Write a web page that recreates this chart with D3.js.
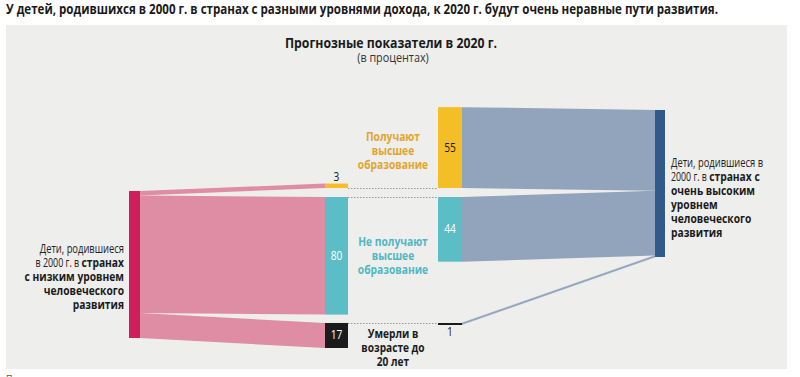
<!DOCTYPE html>
<html>
<head>
<meta charset="utf-8">
<script src="https://cdn.jsdelivr.net/npm/d3@7"></script>
<style>
  body { margin: 0; background: #fff; }
  svg { display: block; }
  text { font-family: "Open Sans", sans-serif; }
</style>
</head>
<body>
<svg id="chart" width="800" height="377"></svg>
<script>
// data
const outcomes = ["edu", "noEdu", "died"];
const outcomeLabels = [
  ["Получают", "высшее", "образование"],
  ["Не получают", "высшее", "образование"],
  ["Умерли в", "возрасте до", "20 лет"]
];
const lowValues = [3, 80, 17];
const highValues = [55, 44, 1];
const lowLabel = [["Дети, родившиеся", ""], ["в 2000 г. в ", "странах"], ["", "с низким уровнем"], ["", "человеческого"], ["", "развития"]];
const highLabel = [["Дети, родившиеся в", ""], ["2000 г. в ", "странах с"], ["", "очень высоким"], ["", "уровнем"], ["", "человеческого"], ["", "развития"]];

const colors = {
  lowNode: "#cc1f5c", lowLink: "#df8ca5",
  highNode: "#2f5a8a", highLink: "#91a4bc",
  edu: "#f4bf26", noEdu: "#5bbdc6", died: "#1b1b1b"
};
const labelColors = ["#e2a52b", "#4fb8c3", "#1b1b1b"];

const svg = d3.select("#chart");

// squeeze Open Sans to look like the condensed face of the original
function condense(t, k) {
  const w = t.node().getComputedTextLength();
  t.attr("textLength", w * k).attr("lengthAdjust", "spacingAndGlyphs");
  return t;
}

// panel
svg.append("rect").attr("x", 6).attr("y", 25).attr("width", 781).attr("height", 344).attr("fill", "#eeeeec");

svg.append("text").attr("x", 6).attr("y", 14)
  .attr("font-size", 13.5).attr("font-weight", "bold").attr("fill", "#1a1a1a")
  .attr("textLength", 712).attr("lengthAdjust", "spacingAndGlyphs")
  .text("У детей, родившихся в 2000 г. в странах с разными уровнями дохода, к 2020 г. будут очень неравные пути развития.");

condense(svg.append("text").attr("x", 391).attr("y", 48).attr("text-anchor", "middle")
  .attr("font-size", 14).attr("font-weight", "bold").attr("fill", "#1a1a1a")
  .text("Прогнозные показатели в 2020 г."), 0.876);
condense(svg.append("text").attr("x", 393).attr("y", 62).attr("text-anchor", "middle")
  .attr("font-size", 12).attr("fill", "#333")
  .text("(в процентах)"), 0.9);

condense(svg.append("text").attr("x", 6).attr("y", 383)
  .attr("font-size", 11).attr("fill", "#555")
  .text("Примечание:"), 0.8);

// scales
const h = d3.scaleLinear().domain([0, 100]).range([0, 147]);
const xs = { lowNode: [129, 140], col1: [325, 348], col2: [438, 462], highNode: [655, 665] };
const lowTop = 191, highTop = 110;
// anchor of each outcome group: edu sits on its bottom, others hang from top
const groupAnchor = { edu: 188, noEdu: 197, died: 323 };

function barY(i, v) {
  return outcomes[i] === "edu" ? [groupAnchor.edu - h(v), groupAnchor.edu] : [groupAnchor[outcomes[i]], groupAnchor[outcomes[i]] + h(v)];
}

const poly = d3.line().curve(d3.curveLinearClosed);

// left links
let acc = 0;
lowValues.forEach((v, i) => {
  const y0 = lowTop + h(acc), y1 = lowTop + h(acc + v);
  const b = barY(i, v);
  svg.append("path").attr("fill", colors.lowLink)
    .attr("d", poly([[xs.lowNode[1], y0], [xs.col1[0], b[0]], [xs.col1[0], b[1]], [xs.lowNode[1], y1]]));
  acc += v;
});

// right links
acc = 0;
highValues.forEach((v, i) => {
  const y0 = highTop + h(acc), y1 = highTop + h(acc + v);
  const b = barY(i, v);
  svg.append("path").attr("fill", colors.highLink)
    .attr("stroke", v < 3 ? colors.highLink : "none").attr("stroke-width", 0.6)
    .attr("d", poly([[xs.col2[1], b[0]], [xs.highNode[0], y0], [xs.highNode[0], y1], [xs.col2[1], b[1]]]));
  acc += v;
});

// dotted guides
[groupAnchor.edu, groupAnchor.noEdu, groupAnchor.died].forEach(y => {
  svg.append("line").attr("x1", xs.col1[1]).attr("x2", xs.col2[0]).attr("y1", y + 0.5).attr("y2", y + 0.5)
    .attr("stroke", "#9a9a9a").attr("stroke-width", 1).attr("stroke-dasharray", "1.5,1.5");
});

// nodes
svg.append("rect").attr("x", xs.lowNode[0]).attr("y", lowTop).attr("width", xs.lowNode[1] - xs.lowNode[0])
  .attr("height", h(d3.sum(lowValues))).attr("fill", colors.lowNode);
svg.append("rect").attr("x", xs.highNode[0]).attr("y", highTop).attr("width", xs.highNode[1] - xs.highNode[0])
  .attr("height", h(d3.sum(highValues))).attr("fill", colors.highNode);

// outcome bars
[[lowValues, xs.col1], [highValues, xs.col2]].forEach(([vals, xr]) => {
  vals.forEach((v, i) => {
    const b = barY(i, v);
    svg.append("rect").attr("x", xr[0]).attr("y", b[0]).attr("width", xr[1] - xr[0])
      .attr("height", Math.max(b[1] - b[0], 2)).attr("fill", colors[outcomes[i]]);
    const big = h(v) > 14;
    const cx = (xr[0] + xr[1]) / 2;
    let ty;
    if (big) ty = (b[0] + b[1]) / 2 + 4;
    else if (outcomes[i] === "edu") ty = b[0] - 3;
    else ty = b[1] + 12;
    condense(svg.append("text").attr("x", cx).attr("y", ty).attr("text-anchor", "middle")
      .attr("font-size", 12)
      .attr("fill", big && outcomes[i] !== "edu" ? "#fff" : "#1a1a1a")
      .text(v), 0.85);
  });
});

// outcome labels
const labelBase = { edu: 141, noEdu: 246, died: 338 };
outcomeLabels.forEach((lines, i) => {
  lines.forEach((ln, j) => {
    condense(svg.append("text").attr("x", 393).attr("y", labelBase[outcomes[i]] + j * 14)
      .attr("text-anchor", "middle").attr("font-size", i === 2 ? 13 : 12.5).attr("font-weight", "bold")
      .attr("fill", labelColors[i]).text(ln), i === 2 ? 0.78 : 0.82);
  });
});

// source labels: regular and bold parts squeezed separately
function multi(lines, x, y0, anchor) {
  lines.forEach((ln, j) => {
    const t = svg.append("text").attr("x", x).attr("y", y0 + j * 14).attr("text-anchor", anchor)
      .attr("font-size", 12.5).attr("fill", "#222");
    if (ln[0]) condense(t.append("tspan").text(ln[0]), 0.75);
    if (ln[1]) condense(t.append("tspan").attr("font-weight", "bold").attr("fill", "#1a1a1a").text(ln[1]), 0.82);
  });
}
multi(lowLabel, 124, 253, "end");
multi(highLabel, 671, 167, "start");
</script>
</body>
</html>
